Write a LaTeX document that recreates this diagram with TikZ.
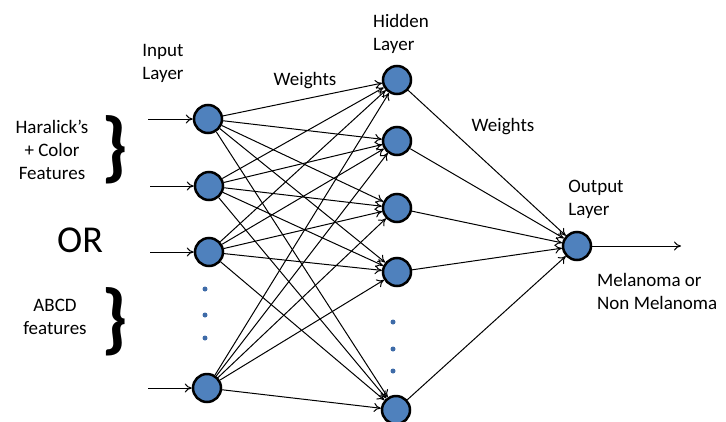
\documentclass[tikz,border=0pt]{standalone}
\usepackage{fontspec}
\setmainfont{Carlito}
\usetikzlibrary{arrows.meta}
\definecolor{neuron}{HTML}{4F81BD}
\definecolor{dotblue}{HTML}{3E6BA8}
\begin{document}
\begin{tikzpicture}[x=1pt,y=-1pt,
  neuronnode/.style={circle,draw=black,line width=2.5pt,fill=neuron,minimum size=28pt,inner sep=0pt},
  conn/.style={line width=1pt,-{To[length=7pt,width=9pt]}},
  lbl/.style={font=\fontsize{19}{23}\selectfont,align=left,inner sep=0pt},
  clbl/.style={font=\fontsize{19}{23}\selectfont,align=center,inner sep=0pt},
  vdot/.style={circle,fill=dotblue,minimum size=5pt,inner sep=0pt},
  bracestyle/.style={font=\fontsize{78}{78}\bfseries\selectfont,inner sep=0pt}]
\useasboundingbox (0,0) rectangle (726,421);

% input layer
\node[neuronnode] (i1) at (208,119) {};
\node[neuronnode] (i2) at (209,186) {};
\node[neuronnode] (i3) at (209,252) {};
\node[neuronnode] (i4) at (207,388) {};
% hidden layer
\node[neuronnode] (h1) at (397,80) {};
\node[neuronnode] (h2) at (397,141) {};
\node[neuronnode] (h3) at (397,208) {};
\node[neuronnode] (h4) at (397,272) {};
\node[neuronnode] (h5) at (396,410) {};
% output layer
\node[neuronnode] (o) at (577,246) {};

% incoming feature arrows
\coordinate (s1) at (148,119);
\coordinate (s2) at (150,186);
\coordinate (s3) at (150,252);
\coordinate (s4) at (148,388);
\coordinate (out) at (681,246);
\foreach \k in {1,2,3,4} \draw[conn] (s\k) -- (i\k);
\draw[conn] (o) -- (out);

% fully connected weights
\foreach \a in {1,2,3,4}
  \foreach \b in {1,2,3,4,5}
    \draw[conn] (i\a) -- (h\b);
\foreach \b in {1,2,3,4,5}
  \draw[conn] (h\b) -- (o);

% ellipsis dots
\node[vdot] (d1) at (205,289) {};
\node[vdot] (d2) at (205,315) {};
\node[vdot] (d3) at (205,338) {};
\node[vdot] (d4) at (393,322) {};
\node[vdot] (d5) at (393,349) {};
\node[vdot] (d6) at (393,371) {};

% labels
\node[lbl] (inlbl) at (163,63) {Input\\Layer};
\node[lbl] (hidlbl) at (401,34) {Hidden\\Layer};
\node[lbl] (outlbl) at (596,199) {Output\\Layer};
\node[clbl] (w1) at (305,81) {Weights};
\node[clbl] (w2) at (503,127) {Weights};
\node[lbl,anchor=west] (res) at (597,291) {Melanoma or\\Non Melanoma};
\node[clbl] (har) at (52,150) {Haralick’s\\+ Color\\Features};
\node[clbl] (abcd) at (55,317) {ABCD\\features};
\node[font=\fontsize{38}{38}\selectfont,inner sep=0pt] (or) at (80,240) {OR};
\node[bracestyle] (b1) at (115,150) {\}};
\node[bracestyle] (b2) at (115,322) {\}};
\end{tikzpicture}
\end{document}
